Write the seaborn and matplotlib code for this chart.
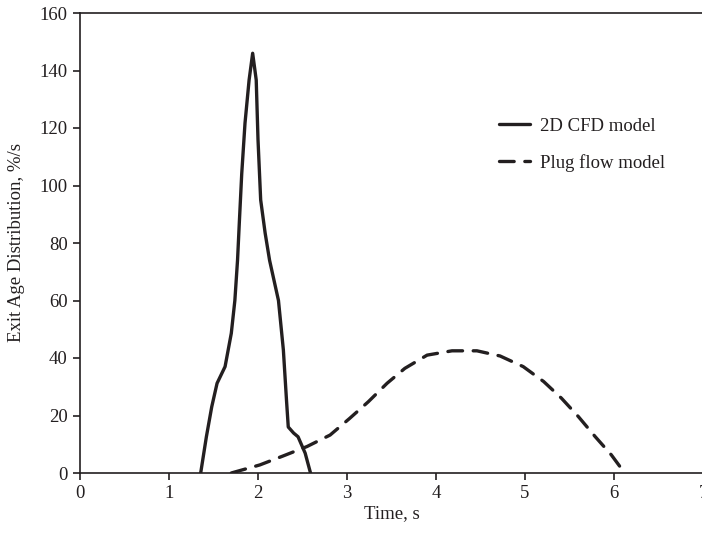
import matplotlib
matplotlib.use("Agg")
import matplotlib.pyplot as plt
import seaborn as sns
import pandas as pd

cfd_t = [1.356, 1.42, 1.48, 1.54, 1.63, 1.70, 1.74, 1.77, 1.79, 1.817, 1.854, 1.90, 1.94,
         1.98, 2.00, 2.03, 2.08, 2.13, 2.23, 2.285, 2.32, 2.34, 2.40, 2.45, 2.53, 2.59]
cfd_y = [0, 12.6, 23, 31.2, 37, 48.6, 60, 74, 87, 104, 121.7, 136.7, 146,
         136.7, 116, 95, 83.5, 74, 60, 42.8, 25.4, 16, 13.9, 12.6, 6.9, 0]

plug_t = [1.70, 2.02, 2.28, 2.55, 2.81, 3.03, 3.24, 3.45, 3.65, 3.90, 4.18, 4.46,
          4.72, 4.98, 5.21, 5.41, 5.60, 5.79, 5.97, 6.12]
plug_y = [0, 2.8, 5.9, 9.2, 13.2, 19, 24.8, 31.2, 36.4, 41, 42.5, 42.5,
          40.7, 37, 31.8, 26, 19.6, 12.6, 6.3, 0]

labels = ["2D CFD model", "Plug flow model"]
x_ticks = [0, 1, 2, 3, 4, 5, 6, 7]
y_ticks = [0, 20, 40, 60, 80, 100, 120, 140, 160]

df = pd.concat([
    pd.DataFrame({"t": cfd_t, "y": cfd_y, "model": labels[0]}),
    pd.DataFrame({"t": plug_t, "y": plug_y, "model": labels[1]}),
])

sns.set_style("ticks")
plt.rcParams["font.family"] = ["Liberation Serif", "DejaVu Serif"]
plt.rcParams["font.size"] = 13.5

ink = "#231f20"
fig = plt.figure(figsize=(7.02, 5.36), dpi=100)
ax = fig.add_axes([80/702, (536-473)/536, (703-80)/702, (473-13)/536])

sns.lineplot(data=df, x="t", y="y", hue="model", style="model",
             palette=[ink, ink],
             dashes={labels[0]: "", labels[1]: (4.4, 3.2)},
             linewidth=2.4, sort=False, estimator=None, ax=ax)
for ln in ax.get_lines():
    ln.set_solid_joinstyle("round")
    ln.set_dash_capstyle("round")

ax.set_xlim(0, 7)
ax.set_ylim(0, 160)
ax.set_xticks(x_ticks)
ax.set_yticks(y_ticks)
ax.tick_params(direction="out", length=5, width=1.2, color=ink, labelcolor=ink,
               labelsize=13.5, pad=4)
for s in ["left", "bottom", "top", "right"]:
    ax.spines[s].set_linewidth(1.2)
    ax.spines[s].set_color(ink)
ax.set_xlabel("Time, s", fontsize=13.5, color=ink, labelpad=2)
ax.set_ylabel("Exit Age Distribution, %/s", fontsize=13.5, color=ink, labelpad=10)

leg = ax.legend(frameon=False, loc="upper left", bbox_to_anchor=(0.645, 0.809),
                handlelength=1.65, handletextpad=0.55, labelspacing=1.02, fontsize=13.5)
for t in leg.get_texts():
    t.set_color(ink)

fig.savefig("out.png", dpi=100)
